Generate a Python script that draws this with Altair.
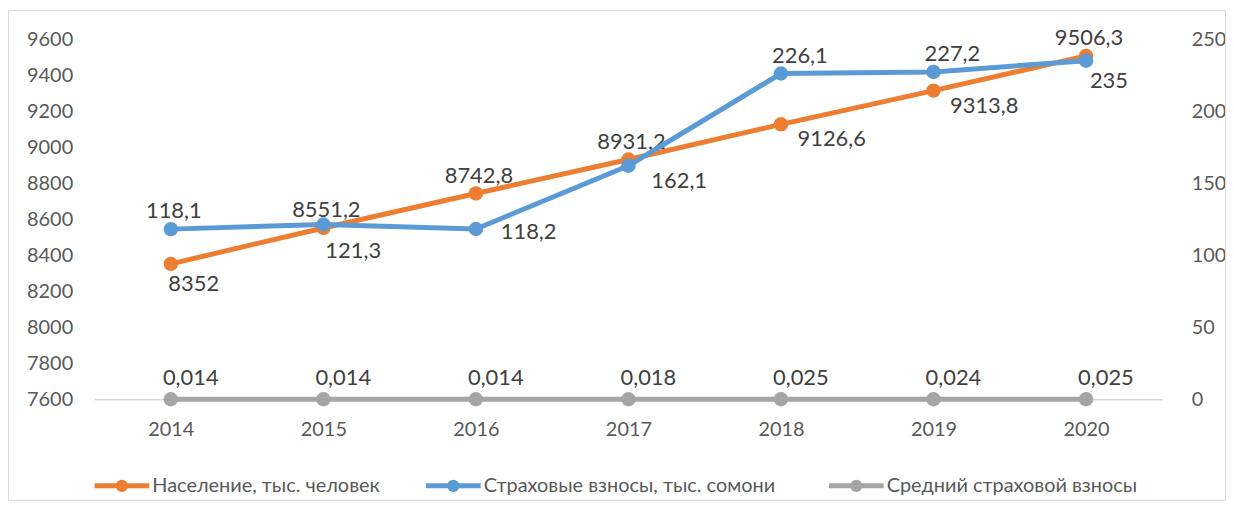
import altair as alt
import pandas as pd

# ---- data ----
years = ["2014", "2015", "2016", "2017", "2018", "2019", "2020"]
population = [8352, 8551.2, 8742.8, 8931.2, 9126.6, 9313.8, 9506.3]
contributions = [118.1, 121.3, 118.2, 162.1, 226.1, 227.2, 235]
average_contribution = [0.014, 0.014, 0.014, 0.018, 0.025, 0.024, 0.025]

series_names = [
    "Население, тыс. человек",
    "Страховые взносы, тыс. сомони",
    "Средний страховой взносы",
]
series_colors = ["#ED7D31", "#5B9BD5", "#A5A5A5"]

left_ticks = [7600, 7800, 8000, 8200, 8400, 8600, 8800, 9000, 9200, 9400, 9600]
right_ticks = [0, 50, 100, 150, 200, 250]

# label placement class per point (where Excel put each data label)
pop_label_place = ["below_right", "above", "above", "above", "right_below", "right_below", "above"]
contrib_label_place = ["above", "below_right_far", "right", "right_below", "above_right", "above_right", "below_right"]
avg_label_place = ["top_right"] * 7

# pixel offsets for each placement class (style, not data)
PLACE = {
    "above": (3, -18),
    "above_right": (19, -18),
    "top_right": (20, -21),
    "below_right": (23, 20),
    "below_right_far": (30, 27),
    "right": (53, 3),
    "right_below": (51, 15),
}

# legend entry start x (plot pixels) and row y -- layout, not data
LEGEND_X = [0, 333, 738]
LEGEND_Y = 449
LEGEND_SYMBOL_W = 55

FONT = "Lato"
TEXT_COLOR = "#404040"
AXIS_COLOR = "#595959"


def fmt(v):
    return f"{v:g}".replace(".", ",")


def frame(values, name, places):
    return pd.DataFrame({
        "year": years,
        "value": values,
        "series": name,
        "label": [fmt(v) for v in values],
        "place": places,
    })


df_left = frame(population, series_names[0], pop_label_place)
df_right = pd.concat([
    frame(contributions, series_names[1], contrib_label_place),
    frame(average_contribution, series_names[2], avg_label_place),
], ignore_index=True)

W, H = 1073, 362

x_enc = alt.X(
    "year:O",
    sort=years,
    scale=alt.Scale(padding=0.5),
    axis=alt.Axis(
        title=None, labelAngle=0, ticks=False, domainColor="#d9d9d9",
        domainWidth=1.5, labelPadding=20, labelFontSize=20, labelFont=FONT,
        labelColor=AXIS_COLOR,
    ),
)

color_scale = alt.Scale(domain=series_names, range=series_colors)
color_plain = alt.Color("series:N", scale=color_scale, legend=None)


def text_layers(base, df, y_enc):
    out = []
    for key, (dx, dy) in PLACE.items():
        if key not in set(df["place"]):
            continue
        out.append(
            base.transform_filter(alt.datum.place == key)
            .mark_text(dx=dx, dy=dy, fontSize=22, font=FONT, color=TEXT_COLOR,
                       align="center", baseline="middle")
            .encode(x=x_enc, y=y_enc, text="label:N")
        )
    return out


y_left = alt.Y(
    "value:Q",
    scale=alt.Scale(domain=[7600, 9600], nice=False, zero=False),
    axis=alt.Axis(
        title=None, values=left_ticks, format="d", grid=False, domain=False,
        ticks=False, labelPadding=22, labelFontSize=20, labelFont=FONT,
        labelColor=AXIS_COLOR,
    ),
)
y_right = alt.Y(
    "value:Q",
    scale=alt.Scale(domain=[0, 250], nice=False),
    axis=alt.Axis(
        title=None, orient="right", values=right_ticks, format="d", grid=False,
        domain=False, ticks=False, labelPadding=29, labelFontSize=20,
        labelFont=FONT, labelColor=AXIS_COLOR, labelAlign="left",
    ),
)

left_base = alt.Chart(df_left)
left_line = left_base.mark_line(strokeWidth=5).encode(
    x=x_enc, y=y_left, color=color_plain,
)
left_pts = left_base.mark_point(filled=True, size=210, opacity=1, strokeWidth=0).encode(
    x=x_enc, y=y_left, color=color_plain,
)

right_base = alt.Chart(df_right)
right_line = right_base.mark_line(strokeWidth=5).encode(
    x=x_enc, y=y_right, color=color_plain,
)
right_pts = right_base.mark_point(filled=True, size=210, opacity=1, strokeWidth=0).encode(
    x=x_enc, y=y_right, color=color_plain,
)

left_layer = alt.layer(left_line, left_pts, *text_layers(left_base, df_left, y_left))
right_layer = alt.layer(right_line, right_pts, *text_layers(right_base, df_right, y_right))

# legend drawn as marks below the axis (line + dot + label per series)
legend_layers = []
for name, col, lx in zip(series_names, series_colors, LEGEND_X):
    ld = alt.Chart(pd.DataFrame({"series": [name]}))
    legend_layers.append(
        ld.mark_rule(strokeWidth=5, color=col).encode(
            x=alt.value(lx), x2=alt.value(lx + LEGEND_SYMBOL_W), y=alt.value(LEGEND_Y),
        )
    )
    legend_layers.append(
        ld.mark_point(filled=True, size=150, opacity=1, strokeWidth=0, color=col).encode(
            x=alt.value(lx + LEGEND_SYMBOL_W / 2), y=alt.value(LEGEND_Y),
        )
    )
    legend_layers.append(
        ld.mark_text(align="left", baseline="middle", fontSize=20, font=FONT,
                     color=AXIS_COLOR).encode(
            x=alt.value(lx + LEGEND_SYMBOL_W + 3), y=alt.value(LEGEND_Y),
            text="series:N",
        )
    )

border = alt.Chart(pd.DataFrame({"a": [0]})).mark_rect(
    fill=None, stroke="#d9d9d9", strokeWidth=1
).encode(
    x=alt.value(-86.5), x2=alt.value(W + 63.5),
    y=alt.value(-28.5), y2=alt.value(H + 101.5),
)

chart = (
    alt.layer(left_layer, right_layer, *legend_layers, border)
    .resolve_scale(y="independent")
    .properties(
        width=W, height=H,
        padding={"left": 87, "top": 30, "right": 64, "bottom": 102},
        autosize=alt.AutoSizeParams(type="none"),
        background="white",
    )
    .configure_view(stroke=None)
)

chart.save("out.html", embed_options={"renderer": "svg", "actions": False})
